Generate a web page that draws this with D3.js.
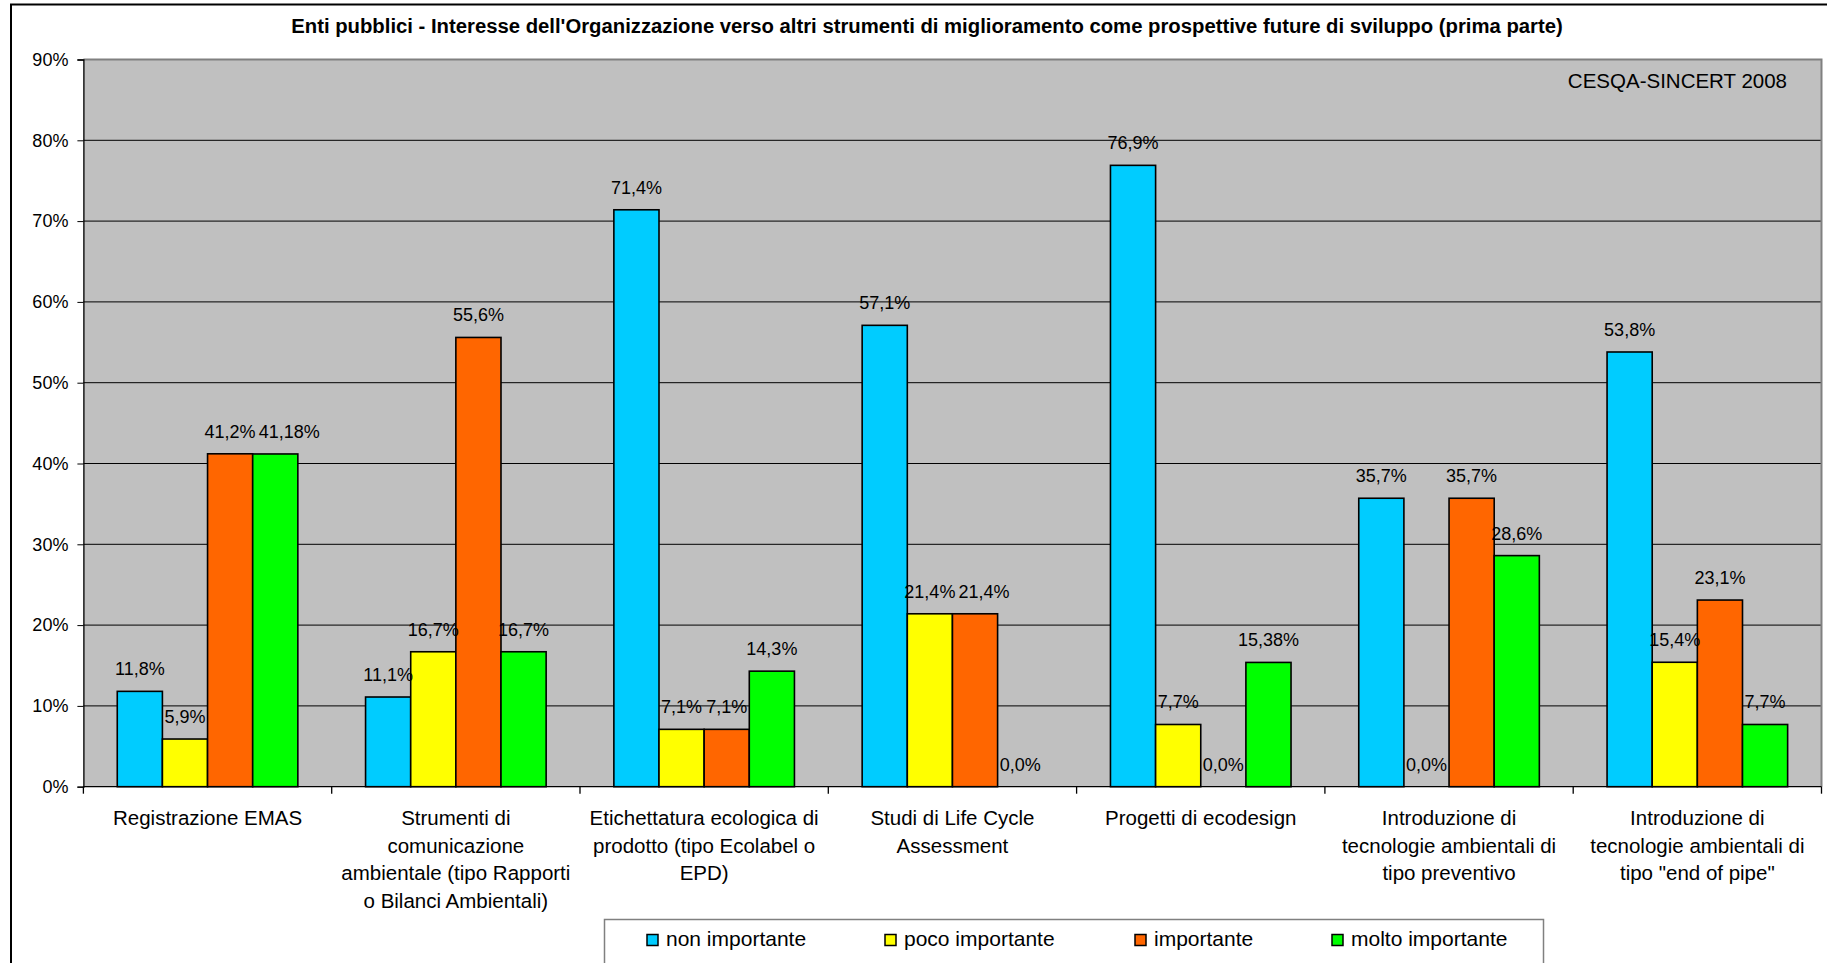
<!DOCTYPE html>
<html>
<head>
<meta charset="utf-8">
<script src="https://cdnjs.cloudflare.com/ajax/libs/d3/7.8.5/d3.min.js"></script>
<style>
  body { margin: 0; background: #fff; }
  svg { display: block; }
  text { font-family: "Liberation Sans", Arial, sans-serif; fill: #000; }
</style>
</head>
<body>
<svg class="chart"></svg>
<script>
var title = "Enti pubblici - Interesse dell'Organizzazione verso altri strumenti di miglioramento come prospettive future di sviluppo (prima parte)";
var source = "CESQA-SINCERT 2008";

var categories = [
    ["Registrazione EMAS"],
    ["Strumenti di", "comunicazione", "ambientale (tipo Rapporti", "o Bilanci Ambientali)"],
    ["Etichettatura ecologica di", "prodotto (tipo Ecolabel o", "EPD)"],
    ["Studi di Life Cycle", "Assessment"],
    ["Progetti di ecodesign"],
    ["Introduzione di", "tecnologie ambientali di", "tipo preventivo"],
    ["Introduzione di", "tecnologie ambientali di", "tipo \"end of pipe\""]
];

var series = ["non importante", "poco importante", "importante", "molto importante"];
var colors = ["#00CCFF", "#FFFF00", "#FF6600", "#00FF00"];

// percent values per series, one per category
var nonImportante   = [11.8, 11.1, 71.4, 57.1, 76.9, 35.7, 53.8];
var pocoImportante  = [5.9, 16.7, 7.1, 21.4, 7.7, 0.0, 15.4];
var importante      = [41.2, 55.6, 7.1, 21.4, 0.0, 35.7, 23.1];
var moltoImportante = [41.18, 16.7, 14.3, 0.0, 15.38, 28.6, 7.7];

var yTicks = [0, 10, 20, 30, 40, 50, 60, 70, 80, 90];

function show() {
    'use strict';

    var W = 1827, H = 963;
    var plot = { left: 83.4, right: 1821.5, top: 59.5, bottom: 786.7 };

    var svg = d3.select(".chart").attr("width", W).attr("height", H);

    var values = [nonImportante, pocoImportante, importante, moltoImportante];
    var data = categories.map(function(c, i) {
        return { idx: i, lines: c, vals: values.map(function(s) { return s[i]; }) };
    });

    var x0 = d3.scaleBand().domain(d3.range(categories.length))
        .range([plot.left, plot.right]);
    var bw = x0.bandwidth();
    var gap = bw * 0.75 / 5.5;   // excel gap width 150%
    var x1 = d3.scaleBand().domain(d3.range(series.length)).range([gap, bw - gap]);
    var y = d3.scaleLinear().domain([0, 90]).range([plot.bottom, plot.top]);

    // outer chart border
    svg.append("rect")
        .attr("x", 11).attr("y", 4.5)
        .attr("width", W + 20).attr("height", H + 20)
        .attr("fill", "none").attr("stroke", "#000").attr("stroke-width", 2);

    // plot background
    svg.append("rect")
        .attr("x", plot.left).attr("y", plot.top)
        .attr("width", plot.right - plot.left).attr("height", plot.bottom - plot.top)
        .attr("fill", "#C0C0C0");

    // gridlines
    svg.append("g").selectAll("line")
        .data(yTicks.filter(function(t) { return t > 0 && t < 90; }))
        .enter().append("line")
        .attr("x1", plot.left).attr("x2", plot.right)
        .attr("y1", function(d) { return y(d); }).attr("y2", function(d) { return y(d); })
        .attr("stroke", "#000").attr("stroke-width", 1);

    // plot border top/right
    svg.append("path")
        .attr("d", "M" + plot.left + "," + plot.top + "H" + plot.right + "V" + plot.bottom)
        .attr("fill", "none").attr("stroke", "#808080").attr("stroke-width", 2);

    // y axis
    var yAxis = d3.axisLeft(y).tickValues(yTicks)
        .tickFormat(function(d) { return d + "%"; })
        .tickSize(6).tickPadding(9);
    var gy = svg.append("g").attr("transform", "translate(" + plot.left + ",0)").call(yAxis);
    gy.select(".domain").attr("stroke", "#000").attr("stroke-width", 1.3);
    gy.selectAll(".tick line").attr("stroke", "#000");
    gy.selectAll(".tick text").attr("font-size", 18).attr("fill", "#000")
        .style("font-family", "'Liberation Sans', Arial, sans-serif");

    // bars
    var groups = svg.append("g").selectAll("g.cat").data(data).enter().append("g")
        .attr("class", "cat")
        .attr("transform", function(d) { return "translate(" + x0(d.idx) + ",0)"; });

    groups.selectAll("rect").data(function(d) { return d.vals; }).enter().append("rect")
        .attr("x", function(d, i) { return x1(i); })
        .attr("width", x1.bandwidth())
        .attr("y", function(d) { return y(d); })
        .attr("height", function(d) { return plot.bottom - y(d); })
        .attr("fill", function(d, i) { return colors[i]; })
        .attr("stroke", "#000").attr("stroke-width", 1.6);

    function fmt(v) {
        var one = Math.abs(v * 10 - Math.round(v * 10)) < 1e-6;
        return v.toFixed(one ? 1 : 2).replace(".", ",") + "%";
    }

    groups.each(function() {
        var g = d3.select(this);
        var labels = g.selectAll("text.val").data(function(d) { return d.vals; }).enter().append("text")
            .attr("class", "val")
            .attr("x", function(d, i) { return x1(i) + x1.bandwidth() / 2; })
            .attr("y", function(d) { return y(d) - 16; })
            .attr("text-anchor", "middle").attr("font-size", 18)
            .text(fmt);

        // nudge a label right when it runs into its left neighbour at the same height
        var nodes = labels.nodes();
        for (var i = 1; i < nodes.length; i++) {
            var a = nodes[i - 1].getBBox(), b = nodes[i].getBBox();
            if (Math.abs(a.y - b.y) < a.height && b.x < a.x + a.width + 3) {
                var shift = a.x + a.width + 3 - b.x;
                nodes[i].setAttribute("x", +nodes[i].getAttribute("x") + shift);
            }
        }
    });

    // x axis
    svg.append("line")
        .attr("x1", plot.left).attr("x2", plot.right)
        .attr("y1", plot.bottom).attr("y2", plot.bottom)
        .attr("stroke", "#000").attr("stroke-width", 1.3);
    svg.append("g").selectAll("line")
        .data(d3.range(categories.length + 1))
        .enter().append("line")
        .attr("x1", function(d) { return plot.left + d * bw; })
        .attr("x2", function(d) { return plot.left + d * bw; })
        .attr("y1", plot.bottom).attr("y2", plot.bottom + 7)
        .attr("stroke", "#000").attr("stroke-width", 1.3);

    var xl = svg.append("g").selectAll("text").data(data).enter().append("text")
        .attr("text-anchor", "middle").attr("font-size", 20.5)
        .attr("x", function(d) { return x0(d.idx) + bw / 2; })
        .attr("y", 825);
    xl.selectAll("tspan").data(function(d) { return d.lines; }).enter().append("tspan")
        .attr("x", function() { var p = this.parentNode; return p.getAttribute("x"); })
        .attr("dy", function(d, i) { return i === 0 ? 0 : 27.7; })
        .text(function(d) { return d; });

    // title
    svg.append("text")
        .attr("x", 927).attr("y", 33)
        .attr("text-anchor", "middle").attr("font-size", 20.3).attr("font-weight", "bold")
        .text(title);

    // source note
    svg.append("text")
        .attr("x", 1787).attr("y", 88)
        .attr("text-anchor", "end").attr("font-size", 20.5)
        .text(source);

    // legend
    var legend = { x: 604.5, y: 919.5, w: 939, h: 50 };
    svg.append("rect")
        .attr("x", legend.x).attr("y", legend.y)
        .attr("width", legend.w).attr("height", legend.h)
        .attr("fill", "#fff").attr("stroke", "#808080").attr("stroke-width", 1.5);

    var itemX = [647, 885, 1135, 1332];
    var li = svg.append("g").selectAll("g").data(series).enter().append("g")
        .attr("transform", function(d, i) { return "translate(" + itemX[i] + ",0)"; });
    li.append("rect")
        .attr("x", 0).attr("y", 934.5).attr("width", 11).attr("height", 11)
        .attr("fill", function(d, i) { return colors[i]; })
        .attr("stroke", "#000").attr("stroke-width", 1.5);
    li.append("text")
        .attr("x", 19).attr("y", 946)
        .attr("font-size", 21)
        .text(function(d) { return d; });
}

show();
</script>
</body>
</html>
